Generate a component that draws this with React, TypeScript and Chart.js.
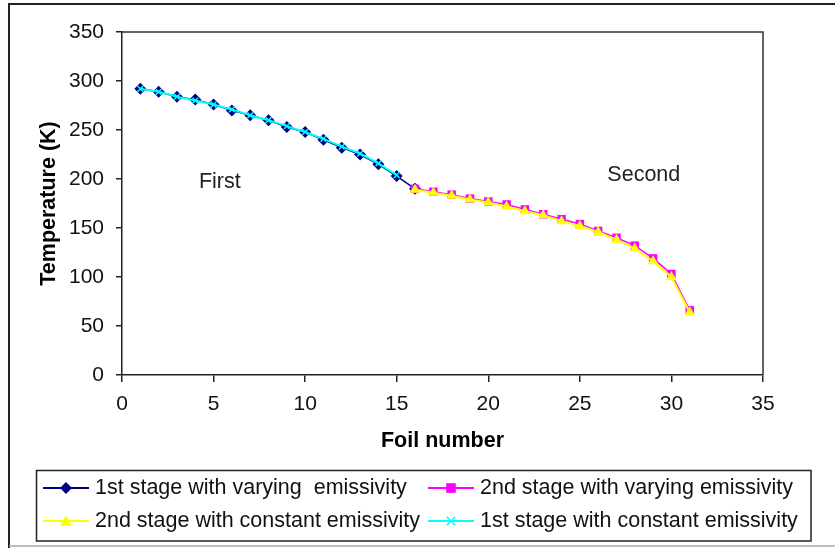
import React, { useEffect, useRef } from "react";
import { Chart, registerables } from "chart.js";

Chart.register(...registerables);

// ---- data ----
const stage1Foils = [1, 2, 3, 4, 5, 6, 7, 8, 9, 10, 11, 12, 13, 14, 15, 16];
const stage1Varying = [292, 289, 284, 281, 276, 270, 265, 260, 253, 248, 240, 232, 225, 215, 203, 190];
const stage1ConstFoils = [1, 2, 3, 4, 5, 6, 7, 8, 9, 10, 11, 12, 13, 14, 15];
const stage1Constant = [292, 289, 284, 280, 276, 271, 265, 260, 254, 248, 241, 233, 226, 216, 204];
const stage2Foils = [16, 17, 18, 19, 20, 21, 22, 23, 24, 25, 26, 27, 28, 29, 30, 31];
const stage2Varying = [190, 187, 184, 180, 177, 174, 169, 164, 159, 154, 147, 140, 132, 119, 103, 66];
const stage2Constant = [189, 186, 183, 179, 176, 172, 167, 163, 157, 152, 146, 138, 129, 116, 100, 64];

const xTickValues = [0, 5, 10, 15, 20, 25, 30, 35];
const yTickValues = [0, 50, 100, 150, 200, 250, 300, 350];

const seriesNames = [
  "1st stage with varying  emissivity",
  "2nd stage with varying emissivity",
  "2nd stage with constant emissivity",
  "1st stage with constant emissivity",
];
const seriesColors = ["#000080", "#FF00FF", "#FFFF00", "#00FFFF"];
const seriesMarkers = ["rectRot", "rect", "triangle", "crossRot"];

const noteTexts = ["First", "Second"];
const noteX = [4.2, 26.5];
const noteY = [197, 204];

const FONT = '"Liberation Sans", Arial, sans-serif';

function toPoints(xs: number[], ys: number[]) {
  return xs.map((x, i) => ({ x, y: ys[i] }));
}

function drawMarker(ctx: CanvasRenderingContext2D, style: string, x: number, y: number, r: number, color: string) {
  ctx.save();
  ctx.fillStyle = color;
  ctx.strokeStyle = color;
  ctx.lineWidth = 1.5;
  ctx.beginPath();
  if (style === "rectRot") {
    ctx.moveTo(x, y - r);
    ctx.lineTo(x + r, y);
    ctx.lineTo(x, y + r);
    ctx.lineTo(x - r, y);
    ctx.closePath();
    ctx.fill();
  } else if (style === "rect") {
    ctx.rect(x - r * 0.8, y - r * 0.8, r * 1.6, r * 1.6);
    ctx.fill();
  } else if (style === "triangle") {
    ctx.moveTo(x, y - r);
    ctx.lineTo(x + r, y + r * 0.8);
    ctx.lineTo(x - r, y + r * 0.8);
    ctx.closePath();
    ctx.fill();
  } else {
    const d = r * 0.7;
    ctx.moveTo(x - d, y - d);
    ctx.lineTo(x + d, y + d);
    ctx.moveTo(x + d, y - d);
    ctx.lineTo(x - d, y + d);
    ctx.stroke();
  }
  ctx.restore();
}

const decorPlugin = {
  id: "decor",
  afterDraw(chart: any) {
    const ctx: CanvasRenderingContext2D = chart.ctx;
    const { left, right, top, bottom } = chart.chartArea;
    const xs = chart.scales.x;
    const ys = chart.scales.y;
    ctx.save();
    // plot frame top & right
    ctx.strokeStyle = "#333";
    ctx.lineWidth = 1.5;
    ctx.beginPath();
    ctx.moveTo(left, top);
    ctx.lineTo(right, top);
    ctx.lineTo(right, bottom);
    ctx.stroke();

    // outer frame
    ctx.strokeStyle = "#222";
    ctx.lineWidth = 2;
    ctx.beginPath();
    ctx.moveTo(9, 548);
    ctx.lineTo(9, 4);
    ctx.lineTo(835, 4);
    ctx.stroke();
    ctx.strokeStyle = "#aaa";
    ctx.lineWidth = 1.5;
    ctx.beginPath();
    ctx.moveTo(9, 546);
    ctx.lineTo(835, 546);
    ctx.stroke();

    // annotations
    ctx.fillStyle = "#222";
    ctx.font = `21.5px ${FONT}`;
    ctx.textAlign = "left";
    ctx.textBaseline = "middle";
    noteTexts.forEach((t, i) => {
      ctx.fillText(t, xs.getPixelForValue(noteX[i]), ys.getPixelForValue(noteY[i]));
    });

    // legend
    ctx.strokeStyle = "#222";
    ctx.lineWidth = 1.5;
    ctx.strokeRect(36.5, 470.5, 774.5, 70.5);
    const rows = [488, 521];
    const cols = [
      { l0: 43, l1: 89, tx: 95 },
      { l0: 428, l1: 474, tx: 480 },
    ];
    seriesNames.forEach((name, i) => {
      const r = Math.floor(i / 2);
      const c = i % 2;
      const y = rows[r];
      const col = cols[c];
      ctx.strokeStyle = seriesColors[i];
      ctx.lineWidth = 2;
      ctx.beginPath();
      ctx.moveTo(col.l0, y);
      ctx.lineTo(col.l1, y);
      ctx.stroke();
      drawMarker(ctx, seriesMarkers[i], (col.l0 + col.l1) / 2, y, 6, seriesColors[i]);
      ctx.fillStyle = "#111";
      ctx.font = `21.5px ${FONT}`;
      ctx.textBaseline = "middle";
      ctx.fillText(name, col.tx, y);
    });
    ctx.restore();
  },
};

export default function App() {
  const ref = useRef<HTMLCanvasElement | null>(null);
  useEffect(() => {
    document.body.style.margin = "0";
    const canvas = ref.current;
    if (!canvas) return;
    const chart = new Chart(canvas, {
      type: "line",
      data: {
        datasets: [
          {
            label: seriesNames[0],
            data: toPoints(stage1Foils, stage1Varying),
            borderColor: seriesColors[0],
            backgroundColor: seriesColors[0],
            borderWidth: 1.5,
            pointStyle: "rectRot",
            pointRadius: 6,
            pointBorderWidth: 0,
            order: 4,
          },
          {
            label: seriesNames[1],
            data: toPoints(stage2Foils, stage2Varying),
            borderColor: seriesColors[1],
            backgroundColor: seriesColors[1],
            borderWidth: 1.5,
            pointStyle: "rect",
            pointRadius: 6,
            pointBorderWidth: 0,
            order: 3,
          },
          {
            label: seriesNames[2],
            data: toPoints(stage2Foils, stage2Constant),
            borderColor: seriesColors[2],
            backgroundColor: seriesColors[2],
            borderWidth: 2,
            pointStyle: "triangle",
            pointRadius: 6,
            pointBorderWidth: 0,
            order: 2,
          },
          {
            label: seriesNames[3],
            data: toPoints(stage1ConstFoils, stage1Constant),
            borderColor: seriesColors[3],
            backgroundColor: seriesColors[3],
            borderWidth: 2,
            pointStyle: "crossRot",
            pointRadius: 4,
            pointBorderWidth: 1.5,
            order: 1,
          },
        ] as any,
      },
      options: {
        responsive: false,
        animation: false,
        layout: { padding: { left: 20, top: 32, right: 72, bottom: 90 } },
        plugins: {
          legend: { display: false },
          tooltip: { enabled: false },
        },
        scales: {
          x: {
            type: "linear",
            min: 0,
            max: 35,
            afterBuildTicks: (s: any) => {
              s.ticks = xTickValues.map((v) => ({ value: v }));
            },
            afterFit: (s: any) => {
              s.height = 83;
            },
            grid: { drawOnChartArea: false, drawTicks: true, tickLength: 7, color: "#222", lineWidth: 1.5 },
            border: { color: "#222", width: 1.5 },
            ticks: { font: { family: FONT, size: 21 }, color: "#111", padding: 10, maxRotation: 0 },
            title: {
              display: true,
              text: "Foil number",
              font: { family: FONT, size: 21.5, weight: "bold" },
              color: "#000",
              padding: { top: 4, bottom: 4 },
            },
          },
          y: {
            type: "linear",
            min: 0,
            max: 350,
            afterBuildTicks: (s: any) => {
              s.ticks = yTickValues.map((v) => ({ value: v }));
            },
            afterFit: (s: any) => {
              s.width = 102;
            },
            grid: { drawOnChartArea: false, drawTicks: true, tickLength: 6, color: "#222", lineWidth: 1.5 },
            border: { color: "#222", width: 1.5 },
            ticks: { font: { family: FONT, size: 21 }, color: "#111", padding: 12 },
            title: {
              display: true,
              text: "Temperature (K)",
              font: { family: FONT, size: 21.5, weight: "bold" },
              color: "#000",
              padding: { top: 16, bottom: 4 },
            },
          },
        },
      } as any,
      plugins: [decorPlugin],
    });
    return () => chart.destroy();
  }, []);
  return (
    <div style={{ width: 835, height: 548, background: "#fff" }}>
      <canvas ref={ref} width={835} height={548} style={{ display: "block" }} />
    </div>
  );
}
